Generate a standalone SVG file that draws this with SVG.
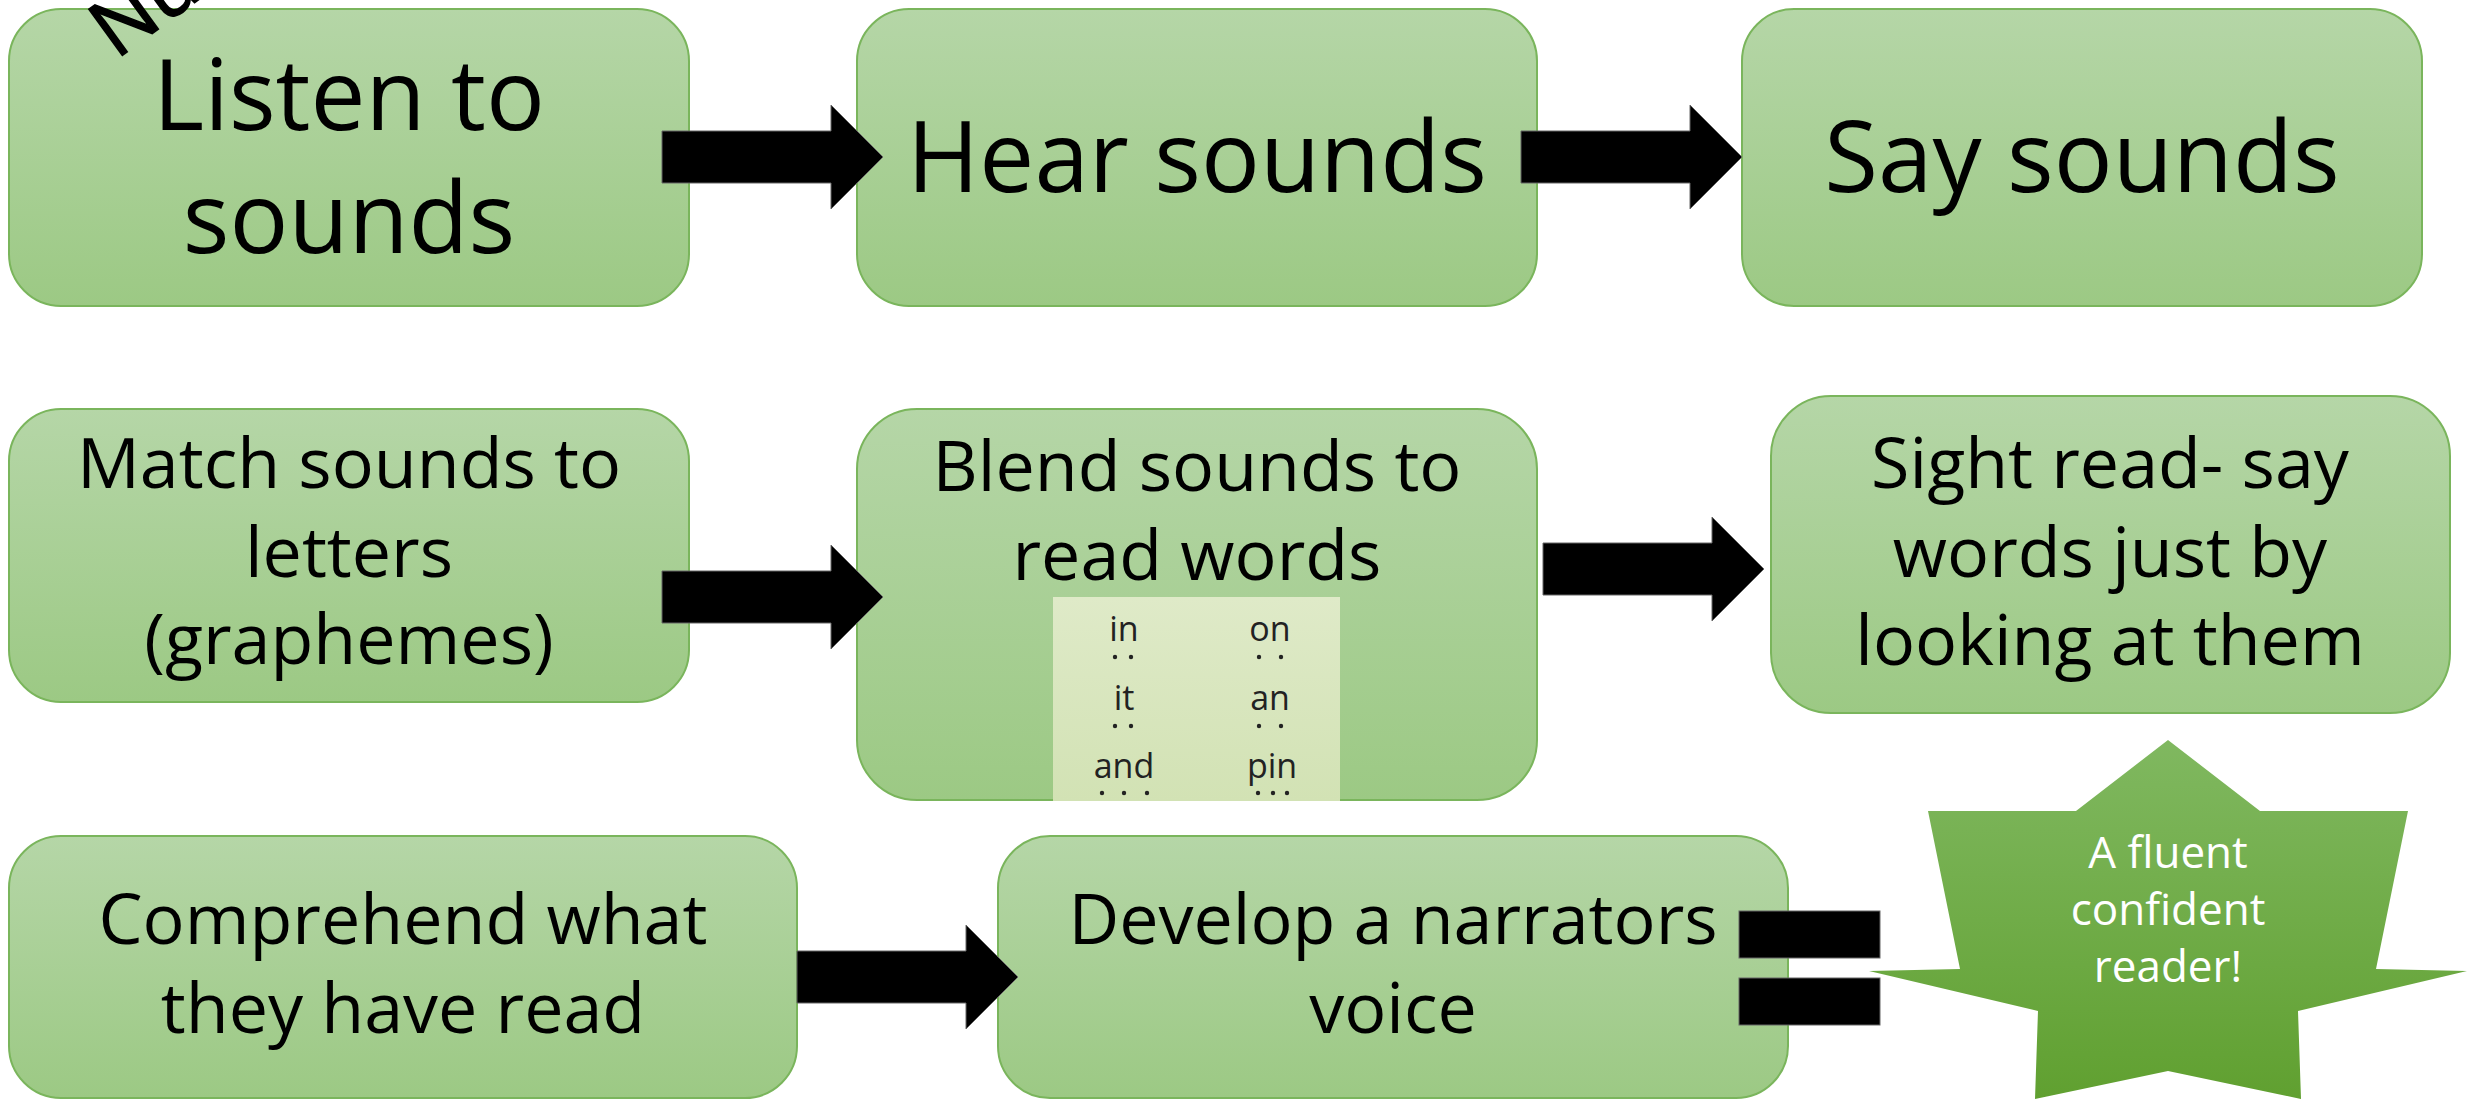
<svg xmlns="http://www.w3.org/2000/svg" width="2484" height="1102" viewBox="0 0 2484 1102">
<defs>
<linearGradient id="boxg" x1="0" y1="0" x2="0" y2="1">
<stop offset="0" stop-color="#b5d6a7"/>
<stop offset="1" stop-color="#9cc984"/>
</linearGradient>
<linearGradient id="starg" x1="0" y1="0" x2="0" y2="1">
<stop offset="0" stop-color="#80b860"/>
<stop offset="1" stop-color="#60a030"/>
</linearGradient>
<linearGradient id="imgg" x1="0" y1="0" x2="0" y2="1">
<stop offset="0" stop-color="#dfeac8"/>
<stop offset="1" stop-color="#d2e2b4"/>
</linearGradient>
<style>
.box{fill:url(#boxg);stroke:#7ab55c;stroke-width:2}
.t1{font-family:"Open Sans","Noto Sans",sans-serif;font-size:98px;fill:#000;text-anchor:middle}
.t2{font-family:"Open Sans","Noto Sans",sans-serif;font-size:70px;fill:#000;text-anchor:middle}
.ts{font-family:"Open Sans","Noto Sans",sans-serif;font-size:44px;fill:#fff;text-anchor:middle}
.tw{font-family:"Open Sans","Noto Sans",sans-serif;font-size:34px;fill:#222;text-anchor:middle}
.arr{fill:#000;stroke:#666;stroke-width:1}
.dot{fill:#222}
</style>
</defs>
<rect width="2484" height="1102" fill="#fff"/>

<g id="n-listen">
<rect class="box" x="9" y="9" width="680" height="297" rx="52"/>
<text class="t1" x="349" y="130">Listen to</text>
<text class="t1" x="349" y="253">sounds</text>
</g>
<g id="n-hear">
<rect class="box" x="857" y="9" width="680" height="297" rx="52"/>
<text class="t1" x="1197" y="192">Hear sounds</text>
</g>
<g id="n-say">
<rect class="box" x="1742" y="9" width="680" height="297" rx="52"/>
<text class="t1" x="2082" y="192">Say sounds</text>
</g>
<g id="n-match">
<rect class="box" x="9" y="409" width="680" height="293" rx="52"/>
<text class="t2" x="349" y="488">Match sounds to</text>
<text class="t2" x="349" y="577">letters</text>
<text class="t2" x="349" y="664">(graphemes)</text>
</g>
<g id="n-blend">
<rect class="box" x="857" y="409" width="680" height="391" rx="60"/>
<text class="t2" x="1197" y="491">Blend sounds to</text>
<text class="t2" x="1197" y="580">read words</text>
<g id="word-image">
<rect x="1053" y="597" width="287" height="204" fill="url(#imgg)"/>
<text class="tw" x="1124" y="641">in</text>
<text class="tw" x="1270" y="641">on</text>
<text class="tw" x="1124" y="710">it</text>
<text class="tw" x="1270" y="710">an</text>
<text class="tw" x="1124" y="778">and</text>
<text class="tw" x="1272" y="778">pin</text>
<circle class="dot" cx="1115" cy="657" r="2.2"/><circle class="dot" cx="1131" cy="657" r="2.2"/>
<circle class="dot" cx="1259" cy="657" r="2.2"/><circle class="dot" cx="1281" cy="657" r="2.2"/>
<circle class="dot" cx="1115" cy="726" r="2.2"/><circle class="dot" cx="1131" cy="726" r="2.2"/>
<circle class="dot" cx="1259" cy="726" r="2.2"/><circle class="dot" cx="1281" cy="726" r="2.2"/>
<circle class="dot" cx="1102" cy="793" r="2.2"/><circle class="dot" cx="1124" cy="793" r="2.2"/><circle class="dot" cx="1147" cy="793" r="2.2"/>
<circle class="dot" cx="1258" cy="793" r="2.2"/><circle class="dot" cx="1273" cy="793" r="2.2"/><circle class="dot" cx="1287" cy="793" r="2.2"/>
</g>
</g>
<g id="n-sight">
<rect class="box" x="1771" y="396" width="679" height="317" rx="60"/>
<text class="t2" x="2110" y="488">Sight read- say</text>
<text class="t2" x="2110" y="577">words just by</text>
<text class="t2" x="2110" y="665">looking at them</text>
</g>
<g id="n-comprehend">
<rect class="box" x="9" y="836" width="788" height="262" rx="52"/>
<text class="t2" x="403" y="944">Comprehend what</text>
<text class="t2" x="403" y="1033">they have read</text>
</g>
<g id="n-develop">
<rect class="box" x="998" y="836" width="790" height="262" rx="52"/>
<text class="t2" x="1393" y="944">Develop a narrators</text>
<text class="t2" x="1393" y="1033">voice</text>
</g>

<g id="connectors">
<path class="arr" d="M662,131 H831 V105 L883,157 L831,209 V183 H662 Z"/>
<path class="arr" d="M1521,131 H1690 V105 L1742,157 L1690,209 V183 H1521 Z"/>
<path class="arr" d="M662,571 H831 V545 L883,597 L831,649 V623 H662 Z"/>
<path class="arr" d="M1543,543 H1712 V517 L1764,569 L1712,621 V595 H1543 Z"/>
<path class="arr" d="M797,951 H966 V925 L1018,977 L966,1029 V1003 H797 Z"/>
<rect class="arr" x="1739" y="911" width="141" height="47"/>
<rect class="arr" x="1739" y="978" width="141" height="47"/>
</g>

<g id="n-star">
<polygon fill="url(#starg)" points="2168,740 2260,811 2408,811 2376,969 2467,971 2298,1011 2301,1099 2168,1071 2035,1099 2038,1011 1869,971 1960,969 1928,811 2076,811"/>
<text class="ts" x="2168" y="868">A fluent</text>
<text class="ts" x="2168" y="925">confident</text>
<text class="ts" x="2168" y="982">reader!</text>
</g>

<g id="corner-text">
<text x="116" y="60" transform="rotate(-36 116 60)" font-family="'Open Sans','Noto Sans',sans-serif" font-size="80" fill="#000" stroke="#000" stroke-width="1.5">Nu</text>
</g>
</svg>
